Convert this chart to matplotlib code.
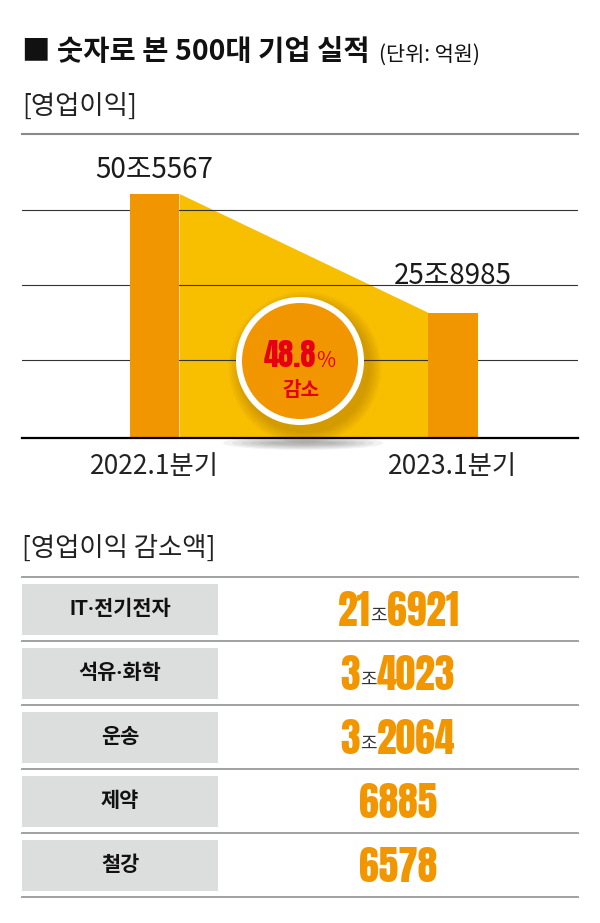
import os
import matplotlib
matplotlib.use('Agg')
import matplotlib.pyplot as plt
import matplotlib.font_manager as fm
from matplotlib.font_manager import FontProperties
from matplotlib.textpath import TextPath
from matplotlib.patches import Circle, Rectangle, Ellipse

plt.rcParams['font.family'] = ['Noto Sans CJK KR', 'DejaVu Sans']

# Data
periods = ['2022.1분기', '2023.1분기']
profit = [505567, 258985]          # 영업이익 (억원)
drop_pct = 48.8
grid_values = [160000, 315000, 472000]
sectors = ['IT·전기전자', '석유·화학', '운송', '제약', '철강']
decrease = [216921, 34023, 32064, 6885, 6578]   # 감소액 (억원)

ORANGE = '#F29600'
YELLOW = '#F8BE00'
RED = '#E50012'
BOX = '#DCDDDD'

# condensed heavy font for the big numbers
wanted = ['Anton-Regular.ttf', 'Oswald-Bold.ttf', 'BarlowCondensed-Bold.ttf',
          'FiraSansExtraCondensed-Bold.ttf', 'DejaVuSansCondensed-Bold.ttf']
paths = {os.path.basename(f.fname): f.fname for f in fm.fontManager.ttflist}
num_path = next((paths[w] for w in wanted if w in paths), None)


def num_prop(ink_px, sample='0123456789'):
    """font properties whose digits are ink_px pixels tall"""
    fp = FontProperties(fname=num_path) if num_path else FontProperties(family='DejaVu Sans', weight='bold')
    h = TextPath((0, 0), sample, size=100, prop=fp).get_extents().height / 100
    fp.set_size(ink_px / h * 0.72)
    return fp


def split_eok(v):
    jo, rest = divmod(v, 10000)
    if jo:
        return str(jo), f'{rest:04d}'
    return '', str(rest)


W, H = 600, 923
fig = plt.figure(figsize=(W / 100, H / 100), dpi=100)

# ---- bar chart ----
base_px, top_px = 437.5, 140
ax = fig.add_axes([22 / W, 1 - base_px / H, 556 / W, (base_px - top_px) / H])
ax.set_ylim(0, (base_px - top_px) * profit[0] / 244)
ax.set_xlim(-0.444, 1.419)
bw = 0.165
ax.fill_between([bw / 2, 1 - bw / 2], profit, color=YELLOW, lw=0, zorder=1)
for g in grid_values:
    ax.axhline(g, color='#333333', lw=0.8, zorder=1.5)
ax.bar(range(len(profit)), profit, width=bw, color=ORANGE, zorder=2)
for s in ['top', 'left', 'right']:
    ax.spines[s].set_visible(False)
ax.spines['bottom'].set_linewidth(1.6)
ax.spines['bottom'].set_zorder(3)
ax.set_yticks([])
ax.set_xticks(range(len(periods)), periods)
ax.tick_params(axis='x', length=0, pad=11, labelsize=19, labelcolor='#222222')
ax.patch.set_alpha(0)

label_offsets = [24, 37]  # px above the bar top
for i, v in enumerate(profit):
    jo, rest = split_eok(v)
    ax.annotate(f'{jo}조{rest}', (i, v), xytext=(0, label_offsets[i] * 0.72),
                textcoords='offset points', ha='center', va='center',
                fontsize=20, color='#1a1a1a', annotation_clip=False)

# ---- overlay in pixel coordinates ----
ov = fig.add_axes([0, 0, 1, 1], zorder=5)
ov.set_xlim(0, W)
ov.set_ylim(H, 0)
ov.axis('off')
renderer = fig.canvas.get_renderer()


def width(t):
    return t.get_window_extent(renderer).width


title = ov.text(22, 52, '■ 숫자로 본 500대 기업 실적', fontsize=20.5, fontweight='bold',
                ha='left', va='center', color='#111111')
ov.text(22 + width(title) + 9, 55, '(단위: 억원)', fontsize=15, ha='left', va='center',
        color='#111111')
ov.text(22, 106, '[영업이익]', fontsize=19, fontweight='light', ha='left', va='center',
        color='#222222')
ov.plot([22, 578], [134, 134], color='#8a8a8a', lw=1.5)

# circle badge
cx, cy, r = 300, 361, 64
for k in range(8):
    ov.add_patch(Circle((cx + 5, cy + 7), r + 1 + k * 1.6, color='#7a4a00', alpha=0.04, lw=0))
for k in range(6):
    ov.add_patch(Ellipse((303, 443), 70 + k * 18, 4 + k * 2, color='black', alpha=0.05, lw=0))
ov.add_patch(Circle((cx, cy), r, fc='white', lw=0))
ov.add_patch(Circle((cx, cy), 58, fc=ORANGE, lw=0))
t1 = ov.text(0, 367, f'{drop_pct}', fontproperties=num_prop(27),
             color=RED, ha='left', va='baseline')
t2 = ov.text(0, 367, '%', fontsize=15, color=RED, ha='left', va='baseline')
tot = width(t1) + width(t2)
t1.set_x(cx - tot / 2)
t2.set_x(cx - tot / 2 + width(t1))
ov.text(cx + 1, 389, '감소', fontsize=14.5, fontweight='bold', color=RED,
        ha='center', va='center')

# ---- table ----
ov.text(22, 548, '[영업이익 감소액]', fontsize=19, fontweight='light', ha='left', va='center',
        color='#222222')
row_top, row_h = 577, 64
for i in range(len(sectors) + 1):
    y = row_top + row_h * i
    ov.plot([22, 578], [y, y], color='#999999', lw=1.3)

big = num_prop(35)
for i, (sec, val) in enumerate(zip(sectors, decrease)):
    y0 = row_top + row_h * i
    yc = y0 + 32
    ov.add_patch(Rectangle((22, y0 + 7), 196, 51, fc=BOX, lw=0))
    ov.text(120, yc, sec, fontsize=15, fontweight='bold', ha='center', va='center',
            family=['Roboto', 'Noto Sans CJK KR'], color='#111111')
    jo, rest = split_eok(val)
    parts = []
    if jo:
        parts.append(ov.text(0, yc + 17.5, jo, fontproperties=big,
                             color=ORANGE, ha='left', va='baseline'))
        parts.append(ov.text(0, yc + 12, '조', fontsize=13, color='#333333',
                             ha='left', va='baseline'))
    parts.append(ov.text(0, yc + 17.5, rest, fontproperties=big,
                         color=ORANGE, ha='left', va='baseline'))
    tot = sum(width(p) for p in parts)
    x = 398 - tot / 2
    for p in parts:
        p.set_x(x)
        x += width(p)

fig.savefig('out.png', dpi=100)
